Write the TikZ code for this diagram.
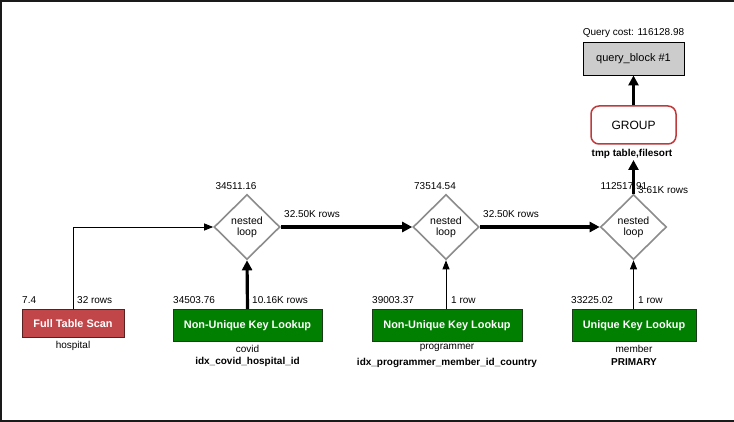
\documentclass[tikz,border=0pt]{standalone}
\usepackage{fontspec}
\setmainfont{Liberation Sans}
\usetikzlibrary{shapes.geometric,arrows.meta}
\definecolor{frame}{HTML}{1A1A1A}
\definecolor{scanred}{HTML}{C1464A}
\definecolor{scanedge}{HTML}{5A2020}
\definecolor{lookgreen}{HTML}{007F00}
\definecolor{lookedge}{HTML}{1A3A1A}
\definecolor{diagray}{HTML}{8C8C8C}
\definecolor{grpred}{HTML}{C0393B}
\definecolor{qbgray}{HTML}{CCCCCC}
\tikzset{
  lbl/.style={inner sep=0pt, font=\fontsize{10}{12}\selectfont},
  lblb/.style={inner sep=0pt, font=\fontsize{10}{12}\selectfont\bfseries},
  boxtxt/.style={text=white, font=\fontsize{10.9}{12}\selectfont\bfseries, inner sep=0pt},
  scanbox/.style={boxtxt, rectangle, fill=scanred, draw=scanedge, line width=0.8pt},
  lookbox/.style={boxtxt, rectangle, fill=lookgreen, draw=lookedge, line width=0.8pt},
  joinnode/.style={diamond, draw=diagray, line width=1.6pt, fill=white, minimum width=66pt, minimum height=65pt, inner sep=0pt, align=center, font=\fontsize{10.5}{11}\selectfont},
  thinarrow/.style={line width=0.9pt, -{Triangle[length=9pt,width=7pt]}},
  thickarrow/.style={line width=3.2pt, -{Triangle[length=10pt,width=10pt]}},
}
\begin{document}
\begin{tikzpicture}[x=1pt,y=-1pt]
\useasboundingbox (0,0) rectangle (734,422);
\fill[white] (0,0) rectangle (734,422);
% frame
\draw[frame, line width=2.5pt] (734,1.2) -- (1.2,1.2) -- (1.2,420.8) -- (734,420.8);

% bottom boxes
\node[scanbox, minimum width=102pt, minimum height=28pt] (fts) at (73,323.5) {Full Table Scan};
\node[lookbox, minimum width=149pt, minimum height=32pt] (covid) at (247.5,325.3) {Non-Unique Key Lookup};
\node[lookbox, minimum width=150pt, minimum height=32pt] (prog) at (447,325.3) {Non-Unique Key Lookup};
\node[lookbox, minimum width=124pt, minimum height=32pt] (memb) at (634,325.3) {Unique Key Lookup};

% under-box labels
\node[lbl] (hosp) at (73,345.5) {hospital};
\node[lbl] (covt) at (247.5,349) {covid};
\node[lblb] (covi) at (247.5,362) {idx\_covid\_hospital\_id};
\node[lbl] (prgt) at (447,348) {programmer};
\node[lblb] (prgi) at (447,363) {idx\_programmer\_member\_id\_country};
\node[lbl] (memt) at (634,349) {member};
\node[lblb] (memi) at (634,362) {PRIMARY};

% cost / rows labels above boxes
\node[lbl, anchor=west] (c1) at (22,300) {7.4};
\node[lbl, anchor=west] (r1) at (77,300) {32 rows};
\node[lbl, anchor=west] (c2) at (173,300) {34503.76};
\node[lbl, anchor=west] (r2) at (252,300) {10.16K rows};
\node[lbl, anchor=west] (c3) at (372,300) {39003.37};
\node[lbl, anchor=west] (r3) at (451,300) {1 row};
\node[lbl, anchor=west] (c4) at (571,300) {33225.02};
\node[lbl, anchor=west] (r4) at (638,300) {1 row};

% nested loops
\node[joinnode] (d1) at (247,227) {nested\\loop};
\node[joinnode] (d2) at (446,227) {nested\\loop};
\node[joinnode] (d3) at (633.5,227) {nested\\loop};
\node[lbl] (dc1) at (236,186) {34511.16};
\node[lbl] (dc2) at (435,186) {73514.54};
\node[lbl] (dc3) at (624,186) {112517.91};
\node[lbl, anchor=west] (dr3) at (638,190.5) {3.61K rows};
\node[lbl, anchor=west] (hr1) at (284,214.5) {32.50K rows};
\node[lbl, anchor=west] (hr2) at (483,214.5) {32.50K rows};

% group and query block
\node[draw=grpred, line width=1.5pt, rounded corners=8pt, minimum width=85pt, minimum height=38pt, inner sep=0pt, font=\fontsize{12}{14}\selectfont] (grp) at (633.5,125) {GROUP};
\node[lblb] (grpl) at (632,153.5) {tmp table,filesort};
\coordinate (grpin) at (633.5,160);
\node[draw=black, fill=qbgray, line width=0.9pt, minimum width=101pt, minimum height=33pt, inner sep=0pt, font=\fontsize{11}{13}\selectfont] (qb) at (633.5,58.5) {query\_block \#1};
\node[lbl] (qcost) at (633.5,33) {Query cost: 116128.98};

% connectors
\draw[thinarrow] (fts.north) |- (d1.west);
\draw[thickarrow] (covid.north) -- (d1.south);
\draw[thinarrow] (prog.north -| d2.south) -- (d2.south);
\draw[thinarrow] (memb.north -| d3.south) -- (d3.south);
\draw[thickarrow] (d1.east) -- (d2.west);
\draw[thickarrow] (d2.east) -- (d3.west);
\draw[thickarrow] (d3.north) -- (grpin);
\draw[thickarrow] (grp.north) -- (qb.south);
\end{tikzpicture}
\end{document}
